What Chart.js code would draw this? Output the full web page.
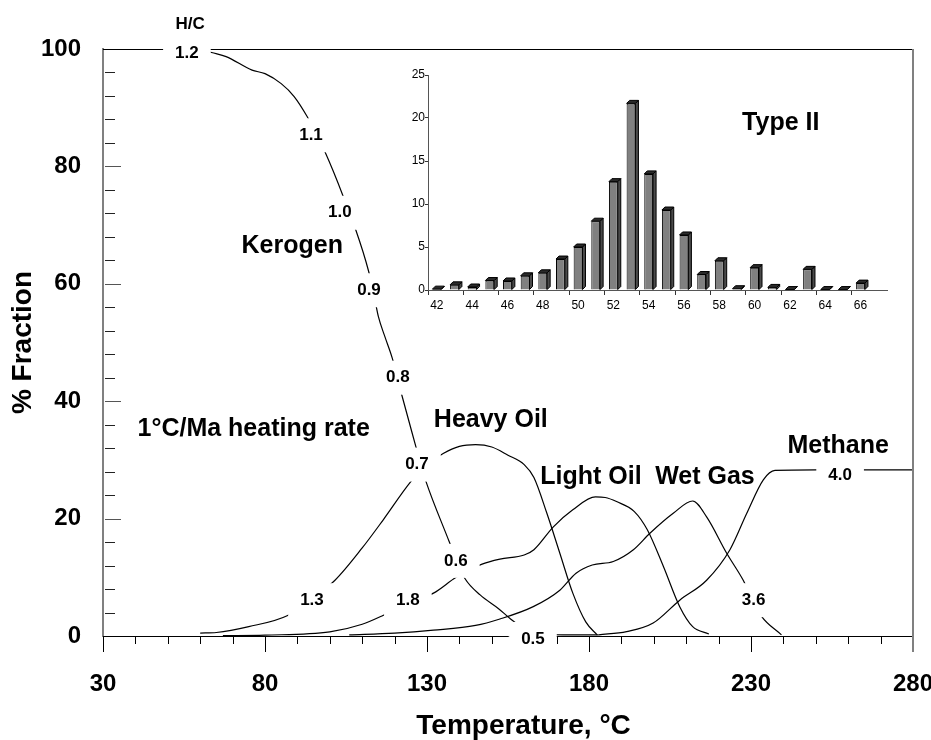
<!DOCTYPE html>
<html>
<head>
<meta charset="utf-8">
<script src="https://cdn.jsdelivr.net/npm/chart.js@4"></script>
<style>
  body { margin: 0; background: #fff; }
  #wrap { position: relative; width: 931px; height: 740px; }
  #main { position: absolute; left: 0; top: 0; }
  #inset { position: absolute; left: 390px; top: 60px; }
</style>
</head>
<body>
<div id="wrap">
  <canvas id="main" width="931" height="740"></canvas>
  <canvas id="inset" width="510" height="262"></canvas>
</div>
<script>
// main chart: % fraction vs temperature (°C)
const kerogenT   = [30, 60, 63.5, 68, 76, 80, 85, 89, 93, 96, 98.5, 104, 106, 108, 112, 113.5, 115, 117, 119.3, 122.2, 126.5, 128, 129.7, 136.9, 139, 141.7, 146.4, 152, 155.8, 159, 162, 166, 172, 183];
const kerogenPct = [100, 100, 99.4, 98.7, 96.4, 95.8, 94.1, 91.9, 88.5, 85.3, 82.5, 75.1, 72, 69.2, 62.1, 58.5, 54.4, 51, 47.3, 41.1, 32.4, 29.4, 26.3, 16, 13, 9.8, 7, 4.7, 2.9, 1.6, 0.7, 0.3, 0.2, 0.2];

const heavyT   = [60, 65, 75, 87, 94, 101.6, 110, 116.5, 125, 130, 135, 140, 145, 150, 155, 160, 163, 167, 171, 175, 179, 182.5];
const heavyPct = [0.5, 0.6, 1.6, 3.5, 6.2, 9.5, 15, 19.8, 26.3, 29.2, 31.1, 32.3, 32.6, 32.2, 30.8, 29.2, 27, 20.9, 14.1, 7.3, 2.4, 0.2];

const lightT   = [67, 80, 100, 110, 116.4, 124, 132, 139, 146.8, 152.5, 160, 163, 169, 175, 182, 185, 188.5, 194, 198, 203, 208, 212, 217];
const lightPct = [0.05, 0.15, 0.7, 2, 3.5, 5.6, 7.3, 10, 12.2, 13.1, 13.8, 14.7, 18.6, 21.5, 23.7, 23.6, 22.9, 21.2, 18.1, 11.8, 5, 1.6, 0.35];

const wetT   = [106, 120, 132, 145, 152.5, 162.8, 171, 176, 181, 187.5, 193.7, 198.8, 206, 212, 216.3, 222.5, 227.6, 230.5, 233.2, 239.4];
const wetPct = [0.2, 0.5, 1, 1.8, 2.9, 5, 7.8, 10.7, 12.1, 12.7, 14.7, 17.5, 20.9, 23, 20.3, 14.1, 9.5, 6.2, 3.4, 0.2];

const methaneT   = [183, 191.6, 199.8, 208, 216.3, 223.5, 228.7, 233.8, 237.4, 250, 280];
const methanePct = [0.2, 0.75, 2.2, 6.1, 9.5, 14.7, 20.9, 26.6, 28.2, 28.3, 28.3];

// H/C ratio labels sitting on the curves (data coords)
const hcLabels = ['1.2', '1.1', '1.0', '0.9', '0.8', '0.7', '0.6', '0.5', '1.3', '1.8', '3.6', '4.0'];
const hcT      = [55.9, 94.2, 103.1, 112.1, 121.0, 126.9, 138.9, 162.7, 94.5, 124.1, 230.8, 257.5];
const hcPct    = [99.3, 85.3, 72.1, 58.9, 44.0, 29.2, 12.8, -0.5, 6.1, 6.1, 6.1, 27.4];

const curveNames = [
  { text: 'Kerogen', t: 88.4, v: 66.4 },
  { text: '1°C/Ma heating rate', t: 76.5, v: 35.2 },
  { text: 'Heavy Oil', t: 149.7, v: 36.7 },
  { text: 'Light Oil', t: 180.6, v: 27.0 },
  { text: 'Wet Gas', t: 215.8, v: 27.0 },
  { text: 'Methane', t: 256.9, v: 32.4 },
];

// inset: Type II distribution
const carbonNumbers = ['42','43','44','45','46','47','48','49','50','51','52','53','54','55','56','57','58','59','60','61','62','63','64','65','66','67'];
const typeIIPct = [0.1, 0.6, 0.35, 1.1, 1.05, 1.65, 2.0, 3.6, 5.0, 8.0, 12.6, 21.7, 13.5, 9.3, 6.4, 1.8, 3.4, 0.15, 2.6, 0.3, 0.05, 2.4, 0.05, 0.05, 0.8, null];

const family = '"Liberation Sans", Arial, Helvetica, sans-serif';

function pts(t, v) {
  return t.map((tt, i) => ({ x: tt, y: v[i] }));
}

const lineStyle = {
  borderColor: '#000',
  borderWidth: 1.2,
  pointRadius: 0,
  fill: false,
  cubicInterpolationMode: 'monotone',
};

const mainDecor = {
  id: 'mainDecor',
  afterDraw(chart) {
    const { ctx, chartArea: a, scales: { x, y } } = chart;
    ctx.save();

    // frame top + right
    ctx.strokeStyle = '#000';
    ctx.lineWidth = 1;
    ctx.beginPath();
    ctx.moveTo(a.left, a.top + 0.5);
    ctx.lineTo(a.right, a.top + 0.5);
    ctx.stroke();
    ctx.strokeStyle = '#808080';
    ctx.lineWidth = 2;
    ctx.beginPath();
    ctx.moveTo(a.right, a.top);
    ctx.lineTo(a.right, a.bottom + 16);
    ctx.stroke();

    // y ticks point inward
    ctx.lineWidth = 1;
    for (let v = 4; v < 100; v += 4) {
      const py = Math.round(y.getPixelForValue(v)) + 0.5;
      const major = v % 20 === 0;
      ctx.strokeStyle = major ? '#555' : '#222';
      ctx.beginPath();
      ctx.moveTo(a.left + 2, py);
      ctx.lineTo(a.left + (major ? 18 : 12), py);
      ctx.stroke();
    }
    // x ticks point down
    ctx.strokeStyle = '#000';
    for (let t = 30; t < 280; t += 10) {
      const px = Math.round(x.getPixelForValue(t)) + 0.5;
      const major = (t - 30) % 50 === 0;
      ctx.beginPath();
      ctx.moveTo(px, a.bottom);
      ctx.lineTo(px, a.bottom + (major ? 16 : 8));
      ctx.stroke();
    }

    // H/C labels, white box breaks the line under them
    ctx.textAlign = 'center';
    ctx.textBaseline = 'middle';
    ctx.font = 'bold 17px ' + family;
    hcLabels.forEach((s, i) => {
      const px = x.getPixelForValue(hcT[i]);
      const py = y.getPixelForValue(hcPct[i]);
      const w = ctx.measureText(s).width + 24;
      ctx.fillStyle = '#fff';
      ctx.fillRect(px - w / 2, py - 17, w, 34);
      ctx.fillStyle = '#000';
      ctx.fillText(s, px, py);
    });
    ctx.fillText('H/C', x.getPixelForValue(56.9), y.getPixelForValue(104.2));

    ctx.font = 'bold 25px ' + family;
    curveNames.forEach(n => {
      ctx.fillText(n.text, x.getPixelForValue(n.t), y.getPixelForValue(n.v));
    });
    ctx.restore();
  }
};

new Chart(document.getElementById('main'), {
  type: 'line',
  data: {
    datasets: [
      { label: 'Kerogen', data: pts(kerogenT, kerogenPct), ...lineStyle },
      { label: 'Heavy Oil', data: pts(heavyT, heavyPct), ...lineStyle },
      { label: 'Light Oil', data: pts(lightT, lightPct), ...lineStyle },
      { label: 'Wet Gas', data: pts(wetT, wetPct), ...lineStyle },
      { label: 'Methane', data: pts(methaneT, methanePct), ...lineStyle },
    ],
  },
  options: {
    responsive: false,
    animation: false,
    devicePixelRatio: 1,
    layout: { padding: { top: 49, right: 18, left: 0, bottom: 0 } },
    plugins: { legend: { display: false }, tooltip: { enabled: false } },
    scales: {
      x: {
        type: 'linear',
        min: 30,
        max: 280,
        ticks: { stepSize: 50, autoSkip: false, maxRotation: 0, padding: 34, color: '#000',
                 font: { size: 24, weight: 'bold', family } },
        grid: { display: false, drawTicks: false },
        border: { color: '#000', width: 1 },
        title: { display: true, text: '    Temperature, °C', color: '#000',
                 font: { size: 28, weight: 'bold', family, lineHeight: 1 }, padding: { top: 0, bottom: 0 } },
        afterFit: s => { s.height = 104; s.paddingLeft = 0; s.paddingRight = 0; },
      },
      y: {
        min: 0,
        max: 100,
        ticks: { stepSize: 20, padding: 22, color: '#000', font: { size: 24, weight: 'bold', family } },
        grid: { display: false, drawTicks: false },
        border: { color: '#808080', width: 2 },
        title: { display: true, text: '% Fraction', color: '#000',
                 font: { size: 28, weight: 'bold', family, lineHeight: 1 }, padding: { top: 9, bottom: 0 } },
        afterFit: s => { s.width = 103; s.paddingTop = 0; s.paddingBottom = 0; },
      },
    },
  },
  plugins: [mainDecor],
});

// fake 3D side and top faces for the inset bars
const bar3d = {
  id: 'bar3d',
  afterDatasetsDraw(chart) {
    const ctx = chart.ctx;
    const d = 3;
    ctx.save();
    ctx.lineWidth = 1;
    ctx.strokeStyle = '#000';
    chart.getDatasetMeta(0).data.forEach((bar, i) => {
      if (typeIIPct[i] == null) return;
      const { x, y, base, width } = bar.getProps(['x', 'y', 'base', 'width'], true);
      const l = x - width / 2, r = x + width / 2;
      ctx.fillStyle = '#4a4a4a';
      ctx.beginPath();
      ctx.moveTo(r, y); ctx.lineTo(r + d, y - d); ctx.lineTo(r + d, base - d); ctx.lineTo(r, base);
      ctx.closePath(); ctx.fill(); ctx.stroke();
      ctx.fillStyle = '#2a2a2a';
      ctx.beginPath();
      ctx.moveTo(l, y); ctx.lineTo(l + d, y - d); ctx.lineTo(r + d, y - d); ctx.lineTo(r, y);
      ctx.closePath(); ctx.fill(); ctx.stroke();
    });
    ctx.textAlign = 'center';
    ctx.textBaseline = 'middle';
    ctx.fillStyle = '#000';
    ctx.font = 'bold 25px ' + family;
    const xs = chart.scales.x, ys = chart.scales.y;
    ctx.fillText('Type II', xs.getPixelForValue(19.48), ys.getPixelForValue(19.4));
    ctx.restore();
  }
};

new Chart(document.getElementById('inset'), {
  type: 'bar',
  data: {
    labels: carbonNumbers,
    datasets: [{
      data: typeIIPct,
      backgroundColor: '#808080',
      borderColor: '#000',
      borderWidth: 1,
      barPercentage: 0.5,
      categoryPercentage: 1,
    }],
  },
  options: {
    responsive: false,
    animation: false,
    devicePixelRatio: 1,
    layout: { padding: { top: 15, right: 13, left: 0, bottom: 0 } },
    plugins: { legend: { display: false }, tooltip: { enabled: false } },
    scales: {
      x: {
        grid: { display: true, drawOnChartArea: false, drawTicks: true, tickLength: 5, offset: true,
                tickColor: c => (c.index % 2 === 0 ? '#333' : 'rgba(0,0,0,0)') },
        border: { color: '#555' },
        ticks: { autoSkip: false, maxRotation: 0, padding: 3, color: '#000', font: { size: 12, family },
                 callback: (v, i) => (i % 2 === 0 ? carbonNumbers[i] : '') },
        afterFit: s => { s.height = 32; s.paddingLeft = 0; s.paddingRight = 0; },
      },
      y: {
        min: 0,
        max: 25,
        ticks: { stepSize: 5, padding: 0, color: '#000', font: { size: 12, family } },
        grid: { drawOnChartArea: false, tickLength: 3, tickColor: '#333' },
        border: { color: '#555' },
        afterFit: s => { s.width = 38; s.paddingTop = 0; s.paddingBottom = 0; },
      },
    },
  },
  plugins: [bar3d],
});
</script>
</body>
</html>
